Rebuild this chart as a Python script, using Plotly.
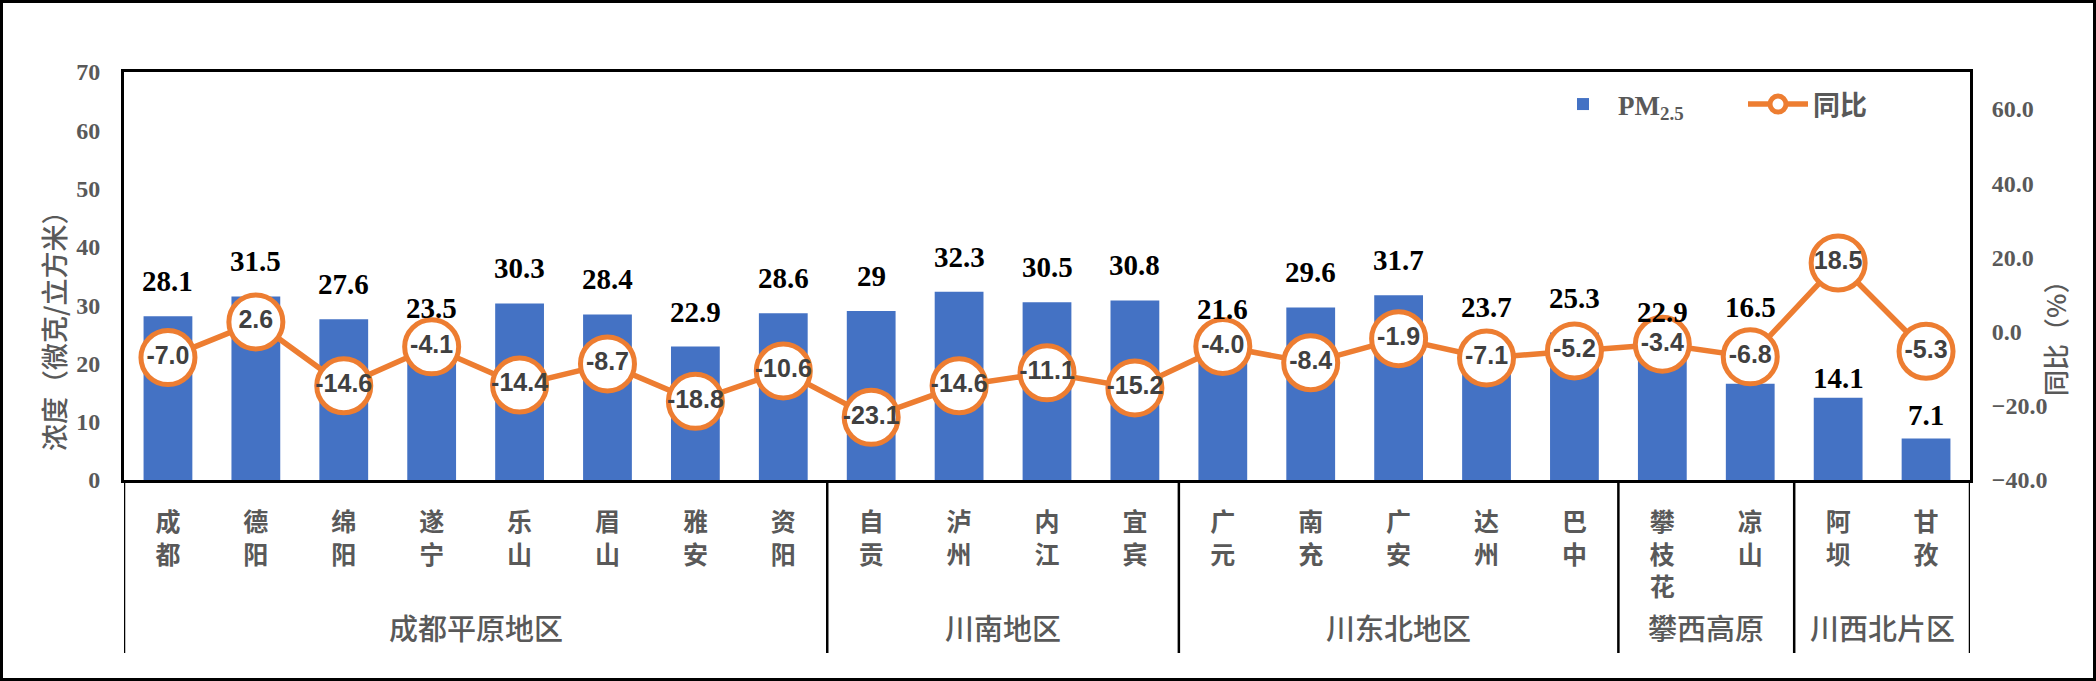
import plotly.graph_objects as go

# ---------------- data ----------------
cities = ["成都", "德阳", "绵阳", "遂宁", "乐山", "眉山", "雅安", "资阳",
          "自贡", "泸州", "内江", "宜宾",
          "广元", "南充", "广安", "达州", "巴中",
          "攀枝花", "凉山",
          "阿坝", "甘孜"]
pm25 = [28.1, 31.5, 27.6, 23.5, 30.3, 28.4, 22.9, 28.6,
        29, 32.3, 30.5, 30.8,
        21.6, 29.6, 31.7, 23.7, 25.3,
        22.9, 16.5,
        14.1, 7.1]
yoy = [-7.0, 2.6, -14.6, -4.1, -14.4, -8.7, -18.8, -10.6,
       -23.1, -14.6, -11.1, -15.2,
       -4.0, -8.4, -1.9, -7.1, -5.2,
       -3.4, -6.8,
       18.5, -5.3]
regions = ["成都平原地区", "川南地区", "川东北地区", "攀西高原", "川西北片区"]
region_sizes = [8, 4, 5, 2, 2]

# ---------------- layout constants ----------------
W, H = 2096, 681
L, R, T, B = 124, 1970, 72, 480
PW, PH = R - L, B - T

def px_x(p):
    return (p - L) / PW

def px_y(p):
    return (B - p) / PH

GRAY = "#595959"
BLUE = "#4472C4"
ORANGE = "#ED7D31"
CJK = "Noto Sans CJK SC"
SERIF = "Liberation Serif"

# manual nudges for a few bar labels (pixels, + = up), as placed in the original
label_nudge = {"广元": 10, "凉山": 42, "阿坝": -15, "甘孜": -11}

fig = go.Figure()
fig.add_trace(go.Bar(
    x=cities, y=pm25, name="PM<sub>2.5</sub>",
    marker=dict(color=BLUE, line=dict(width=0)),
    yaxis="y",
))
fig.add_trace(go.Scatter(
    x=cities, y=yoy, name="<span style='font-family:Noto Sans CJK SC'>同比</span>",
    mode="lines+markers+text",
    line=dict(color=ORANGE, width=5.5),
    marker=dict(size=54, color="white", line=dict(color=ORANGE, width=5)),
    text=[f"{v:.1f}" for v in yoy],
    textposition="middle center",
    textfont=dict(family="Liberation Sans", size=25, color="#404040", weight="bold"),
    cliponaxis=False,
    yaxis="y2",
))

annotations = []
# bar value labels
for c, v in zip(cities, pm25):
    annotations.append(dict(
        x=c, y=v, xref="x", yref="y", text=f"{v:g}", showarrow=False,
        yanchor="bottom", yshift=17 + label_nudge.get(c, 0),
        font=dict(family=SERIF, size=29, color="black", weight="bold"),
    ))
# region labels & separators
shapes = []
start = 0
bounds = [-0.5]
for name, n in zip(regions, region_sizes):
    center = start + (n - 1) / 2
    annotations.append(dict(
        x=center, y=px_y(627), xref="x", yref="paper", text=name,
        showarrow=False, xanchor="center", yanchor="middle",
        font=dict(family=CJK, size=29, color=GRAY, weight=500),
    ))
    start += n
    bounds.append(start - 0.5)
for b in bounds:
    shapes.append(dict(type="line", xref="x", yref="paper", x0=b, x1=b,
                       y0=0, y1=px_y(653), line=dict(color="black", width=2.5)))
# axis titles
annotations.append(dict(
    x=px_x(53), y=px_y(324), xref="paper", yref="paper", text="浓度（微克/立方米）",
    textangle=-90, showarrow=False, xanchor="center", yanchor="middle",
    font=dict(family=CJK, size=27, color=GRAY, weight=500),
))
annotations.append(dict(
    x=px_x(2054), y=px_y(332), xref="paper", yref="paper", text="同比（%）",
    textangle=-90, showarrow=False, xanchor="center", yanchor="middle",
    font=dict(family=CJK, size=26, color=GRAY, weight=500),
))
# outer frame
shapes.append(dict(type="rect", xref="paper", yref="paper",
                   x0=px_x(1.5), x1=px_x(W - 1.5), y0=px_y(H - 1.5), y1=px_y(1.5),
                   line=dict(color="black", width=3), layer="below"))

fig.update_layout(
    width=W, height=H,
    margin=dict(l=L, r=W - R, t=T, b=H - B, pad=0),
    paper_bgcolor="white", plot_bgcolor="white",
    bargap=0.445,
    showlegend=True,
    legend=dict(orientation="h", x=px_x(1548), y=px_y(80), xanchor="left", yanchor="top",
                bgcolor="rgba(0,0,0,0)", itemwidth=60, entrywidth=120,
                font=dict(family=SERIF, size=27, color=GRAY, weight="bold")),
    xaxis=dict(type="category", tickmode="array", tickvals=cities,
               ticktext=["<br>".join(c) for c in cities],
               ticks="outside", ticklen=18, tickcolor="rgba(0,0,0,0)",
               tickfont=dict(family=CJK, size=25, color=GRAY, weight="bold"),
               showline=True, linecolor="black", linewidth=3, mirror=True,
               showgrid=False, zeroline=False, range=[-0.5, len(cities) - 0.5]),
    yaxis=dict(range=[0, 70], dtick=10, showgrid=False, zeroline=False,
               showline=True, linecolor="black", linewidth=3, mirror=True,
               ticks="outside", ticklen=16, tickcolor="rgba(0,0,0,0)",
               tickfont=dict(family=SERIF, size=24, color=GRAY, weight="bold")),
    yaxis2=dict(range=[-40, 70], overlaying="y", side="right",
                tickvals=[-40, -20, 0, 20, 40, 60], tickformat=".1f",
                showgrid=False, zeroline=False, showline=False,
                ticks="outside", ticklen=16, tickcolor="rgba(0,0,0,0)",
                tickfont=dict(family=SERIF, size=24, color=GRAY, weight="bold")),
    annotations=annotations,
    shapes=shapes,
)

fig.write_html("out.html", config={"displayModeBar": False},
               post_script="document.body.style.margin='0';document.body.style.overflow='hidden';")
